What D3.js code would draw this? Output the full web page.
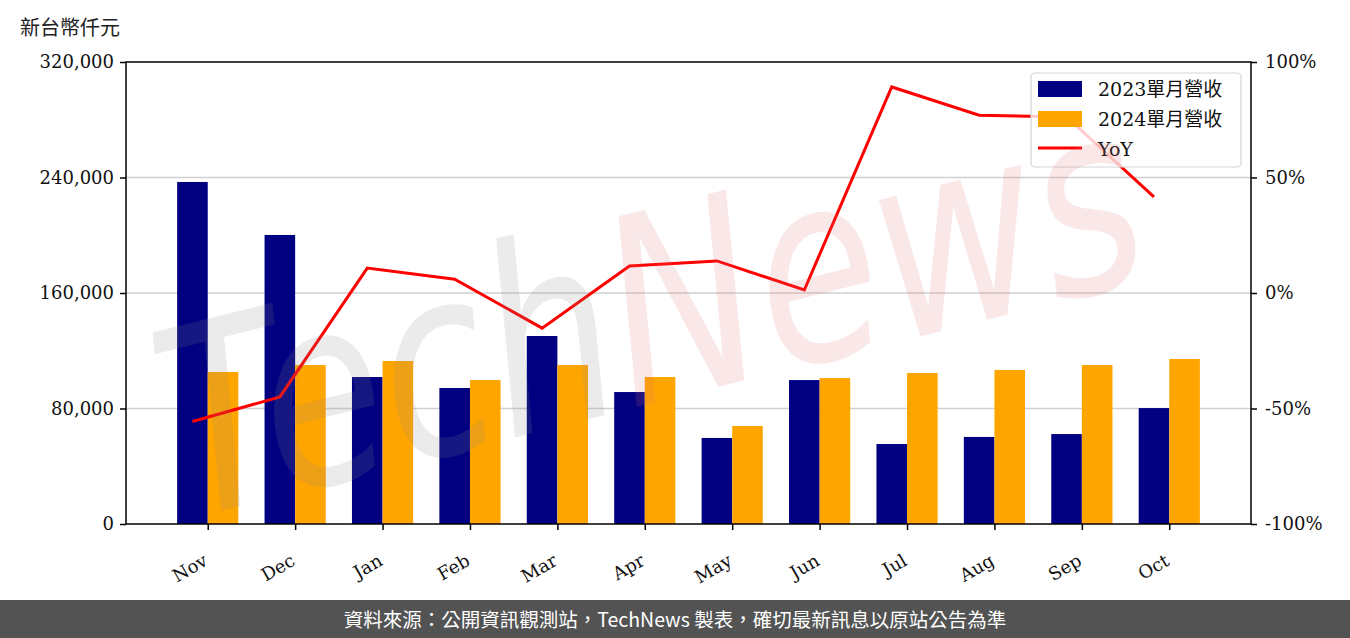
<!DOCTYPE html>
<html>
<head>
<meta charset="utf-8">
<script src="https://cdn.jsdelivr.net/npm/d3@7"></script>
<style>
  body { margin: 0; background: #fff; }
  svg { display: block; }
</style>
</head>
<body>
<div id="chart"></div>
<script>
// monthly revenue, 新台幣仟元
var months = ["Nov", "Dec", "Jan", "Feb", "Mar", "Apr", "May", "Jun", "Jul", "Aug", "Sep", "Oct"];
var rev2023 = [236900, 200200, 101800, 94200, 130200, 91400, 59600, 99700, 55400, 60300, 62300, 80300];
var rev2024 = [105300, 110100, 112900, 99700, 110100, 101800, 67900, 101100, 104600, 106700, 110100, 114300];
var yoy = [-55.6, -45.0, 10.8, 6.0, -15.2, 11.7, 13.9, 1.3, 89.2, 77.0, 76.2, 41.6];
var leftTicks = [0, 80000, 160000, 240000, 320000];
var rightTicks = [-100, -50, 0, 50, 100];
var legendNames = ["2023單月營收", "2024單月營收", "YoY"];

var W = 1350, H = 638;
var plotL = 126, plotR = 1251, plotT = 62, plotB = 524;
var barW = 0.35;
var serif = "'DejaVu Serif','Liberation Serif','Noto Sans CJK TC',serif";
var sans = "'Noto Sans CJK TC','Noto Sans',sans-serif";

var svg = d3.select("#chart").append("svg").attr("width", W).attr("height", H);

var x = d3.scaleLinear().domain([-0.935, 11.935]).range([plotL, plotR]);
var y = d3.scaleLinear().domain([0, 320000]).range([plotB, plotT]);
var y2 = d3.scaleLinear().domain([-100, 100]).range([plotB, plotT]);

// grid
svg.append("g").selectAll("line").data(leftTicks.slice(1, 4)).enter().append("line")
    .attr("x1", plotL).attr("x2", plotR)
    .attr("y1", function(d) { return y(d); }).attr("y2", function(d) { return y(d); })
    .attr("stroke", "#d0d0d0").attr("stroke-width", 1.5);

// bars
svg.append("g").selectAll("rect").data(rev2023).enter().append("rect")
    .attr("x", function(d, i) { return x(i - barW); })
    .attr("width", function() { return x(barW) - x(0); })
    .attr("y", function(d) { return y(d); })
    .attr("height", function(d) { return y(0) - y(d); })
    .attr("fill", "#000080");

svg.append("g").selectAll("rect").data(rev2024).enter().append("rect")
    .attr("x", function(d, i) { return x(i); })
    .attr("width", function() { return x(barW) - x(0); })
    .attr("y", function(d) { return y(d); })
    .attr("height", function(d) { return y(0) - y(d); })
    .attr("fill", "#ffa500");

// yoy line
var line = d3.line()
    .x(function(d, i) { return x(i - barW / 2); })
    .y(function(d) { return y2(d); });
svg.append("path").datum(yoy).attr("d", line)
    .attr("fill", "none").attr("stroke", "#ff0000").attr("stroke-width", 3);

// axes
var yAxis = d3.axisLeft(y).tickValues(leftTicks).tickFormat(d3.format(",")).tickSize(6).tickPadding(6);
var yAxis2 = d3.axisRight(y2).tickValues(rightTicks).tickFormat(function(d) { return d + "%"; }).tickSize(6).tickPadding(8);
var xAxis = d3.axisBottom(x).tickValues(d3.range(months.length)).tickFormat(function(d) { return months[d]; }).tickSize(6);

var gy = svg.append("g").attr("transform", "translate(" + plotL + ",0)").call(yAxis);
var gy2 = svg.append("g").attr("transform", "translate(" + plotR + ",0)").call(yAxis2);
var gx = svg.append("g").attr("transform", "translate(0," + plotB + ")").call(xAxis);

[gy, gy2, gx].forEach(function(g) {
  g.select(".domain").remove();
  g.selectAll(".tick line").attr("stroke", "#000").attr("stroke-width", 1.5);
  g.selectAll("text").attr("font-family", serif).attr("font-size", 18).attr("fill", "#111");
});
gx.selectAll("text")
    .attr("text-anchor", "end")
    .attr("dy", "0.35em")
    .attr("transform", "translate(-7,27) rotate(-30)");

// frame
svg.append("rect").attr("x", plotL).attr("y", plotT)
    .attr("width", plotR - plotL).attr("height", plotB - plotT)
    .attr("fill", "none").attr("stroke", "#000").attr("stroke-width", 1.5);

// unit label
svg.append("text").attr("x", 20).attr("y", 35)
    .attr("font-family", sans).attr("font-size", 20).attr("fill", "#222")
    .text("新台幣仟元");

// legend
var lg = svg.append("g").attr("transform", "translate(1031,73)");
lg.append("rect").attr("width", 210).attr("height", 94).attr("rx", 4)
    .attr("fill", "#fff").attr("fill-opacity", 0.8)
    .attr("stroke", "#d6d6d6").attr("stroke-width", 1.2);
var colors = ["#000080", "#ffa500", "#ff0000"];
legendNames.forEach(function(name, i) {
  var yy = 16 + i * 30;
  if (i < 2) {
    lg.append("rect").attr("x", 7).attr("y", yy - 8).attr("width", 44).attr("height", 16).attr("fill", colors[i]);
  } else {
    lg.append("line").attr("x1", 7).attr("x2", 51).attr("y1", yy - 1).attr("y2", yy - 1)
        .attr("stroke", colors[i]).attr("stroke-width", 3);
  }
  lg.append("text").attr("x", 67).attr("y", yy).attr("dy", "0.35em")
      .attr("font-family", serif).attr("font-size", 19).attr("fill", "#111")
      .text(name);
});

// watermark
var wm = svg.append("text")
    .attr("transform", "translate(650,310) rotate(-14)")
    .attr("text-anchor", "middle")
    .attr("font-family", "'DejaVu Sans'").attr("font-style", "italic")
    .attr("font-size", 260)
    .attr("textLength", 1000).attr("lengthAdjust", "spacingAndGlyphs")
    .attr("dy", "0.35em");
wm.append("tspan").attr("fill", "#888").attr("fill-opacity", 0.17).text("Tech");
wm.append("tspan").attr("fill", "#e07070").attr("fill-opacity", 0.16).text("News");

// footer
svg.append("rect").attr("x", 0).attr("y", 600).attr("width", W).attr("height", 38).attr("fill", "#535353");
svg.append("text").attr("x", W / 2).attr("y", 620).attr("dy", "0.35em")
    .attr("text-anchor", "middle").attr("font-family", sans).attr("font-size", 19.5).attr("fill", "#fff")
    .text("資料來源：公開資訊觀測站，TechNews 製表，確切最新訊息以原站公告為準");
</script>
</body>
</html>
